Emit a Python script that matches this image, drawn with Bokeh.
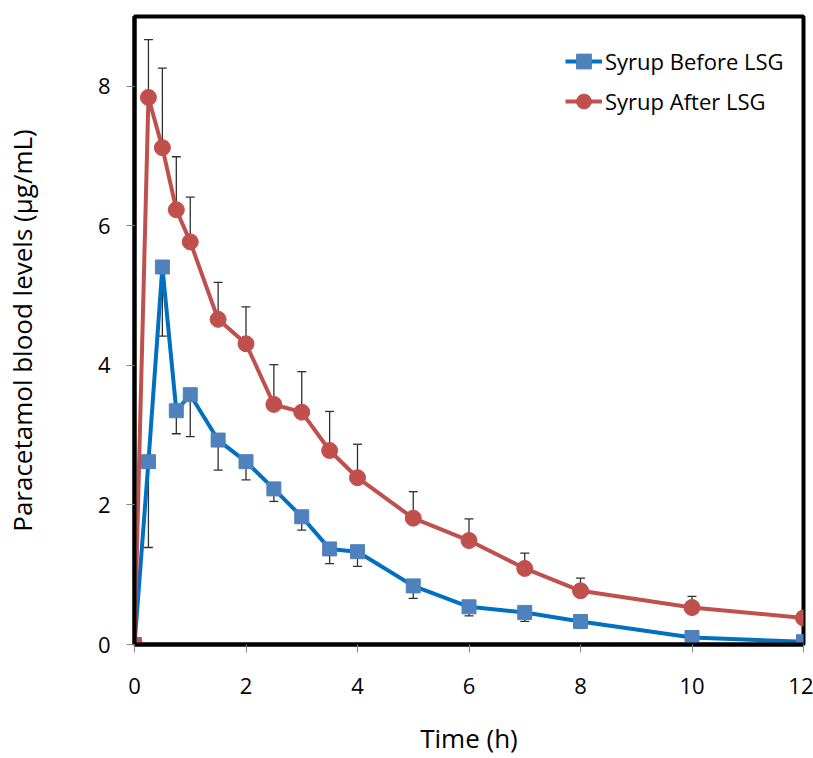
from bokeh.plotting import figure
from bokeh.models import (Range1d, ColumnDataSource, Whisker, TeeHead, Legend,
                          LegendItem, FixedTicker)
from bokeh.embed import file_html
from bokeh.resources import INLINE

# ---- data ----
time_h = [0, 0.25, 0.5, 0.75, 1, 1.5, 2, 2.5, 3, 3.5, 4, 5, 6, 7, 8, 10, 12]
before_mean = [0, 2.62, 5.41, 3.35, 3.58, 2.93, 2.62, 2.23, 1.83, 1.37, 1.33,
               0.84, 0.54, 0.46, 0.33, 0.10, 0.04]
before_sd = [0, 1.23, 0.99, 0.33, 0.60, 0.43, 0.26, 0.18, 0.19, 0.21, 0.21,
             0.18, 0.13, 0.13, 0.10, 0, 0]
after_mean = [0, 7.84, 7.12, 6.23, 5.77, 4.66, 4.31, 3.44, 3.33, 2.78, 2.39,
              1.81, 1.49, 1.09, 0.77, 0.53, 0.38]
after_sd = [0, 0.83, 1.14, 0.76, 0.64, 0.53, 0.53, 0.57, 0.58, 0.56, 0.48,
            0.38, 0.31, 0.22, 0.18, 0.16, 0]
x_ticks = [0, 2, 4, 6, 8, 10, 12]
y_ticks = [0, 2, 4, 6, 8]
series_labels = ["Syrup Before LSG", "Syrup After LSG"]

FONT = "Open Sans"
BLUE_LINE = "#0070C0"
BLUE_MARK = "#4F81BD"
RED = "#C0504D"

p = figure(width=813, height=758, output_backend="svg", toolbar_location=None,
           x_range=Range1d(0, 12), y_range=Range1d(0, 9))
p.min_border_left = 134
p.min_border_right = 10
p.min_border_top = 16
p.min_border_bottom = 113

p.grid.visible = False
p.outline_line_color = "black"
p.outline_line_width = 4
p.outline_line_alpha = 1

for ax in (p.xaxis[0], p.yaxis[0]):
    ax.axis_line_color = "black"
    ax.axis_line_width = 4
    ax.major_tick_line_color = "#868686"
    ax.major_tick_line_width = 1
    ax.major_tick_out = 8
    ax.major_tick_in = 0
    ax.minor_tick_line_color = None
    ax.major_label_text_font = FONT
    ax.major_label_text_font_size = "22px"
    ax.major_label_text_color = "black"
    ax.axis_label_text_font = FONT
    ax.axis_label_text_font_size = "26px"
    ax.axis_label_text_font_style = "normal"
    ax.axis_label_text_color = "black"

p.xaxis.ticker = FixedTicker(ticks=x_ticks)
p.yaxis.ticker = FixedTicker(ticks=y_ticks)
p.xaxis.axis_label = "Time (h)"
p.yaxis.axis_label = "Paracetamol blood levels (µg/mL)"
p.xaxis.major_label_standoff = 25
p.yaxis.major_label_standoff = 16
p.xaxis.axis_label_standoff = 23
p.yaxis.axis_label_standoff = 55

src = ColumnDataSource(data=dict(
    t=time_h,
    b=before_mean,
    b_lo=[m - s for m, s in zip(before_mean, before_sd)],
    a=after_mean,
    a_hi=[m + s for m, s in zip(after_mean, after_sd)],
))

# error bars
wb = Whisker(source=src, base="t", upper="b", lower="b_lo",
             line_color="#303030", line_width=1.3,
             upper_head=None,
             lower_head=TeeHead(size=9, line_color="#303030", line_width=1.3))
wa = Whisker(source=src, base="t", upper="a_hi", lower="a",
             line_color="#303030", line_width=1.3,
             lower_head=None,
             upper_head=TeeHead(size=9, line_color="#303030", line_width=1.3))
p.add_layout(wb)
p.add_layout(wa)

lb = p.line("t", "b", source=src, line_color=BLUE_LINE, line_width=4)
sb = p.scatter("t", "b", source=src, marker="square", size=14,
               fill_color=BLUE_MARK, line_color=BLUE_MARK)
la = p.line("t", "a", source=src, line_color=RED, line_width=4)
sa = p.scatter("t", "a", source=src, marker="circle", size=16,
               fill_color=RED, line_color=RED)

legend = Legend(items=[LegendItem(label=series_labels[0], renderers=[lb, sb]),
                       LegendItem(label=series_labels[1], renderers=[la, sa])],
                location=(431, 523))
legend.label_text_font = FONT
legend.label_text_font_size = "22px"
legend.label_text_color = "black"
legend.border_line_color = None
legend.background_fill_alpha = 0
legend.padding = 0
legend.margin = 0
legend.spacing = 0
legend.glyph_width = 37
legend.glyph_height = 40
legend.label_height = 40
legend.label_standoff = 3
p.add_layout(legend)

open("out.html", "w").write(file_html(p, INLINE))
